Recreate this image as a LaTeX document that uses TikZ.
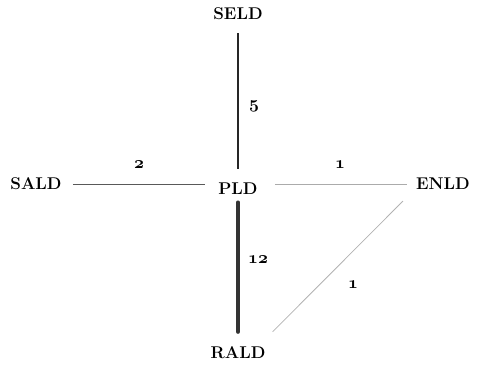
\documentclass[tikz,border=0pt]{standalone}
\newcommand\osfnum[1]{{\usefont{OML}{cmm}{b}{it}#1}}
\begin{document}
\begin{tikzpicture}[x=1pt,y=1pt,
  place/.style={inner sep=0pt,font=\fontsize{17}{20}\selectfont\bfseries},
  wlabel/.style={inner sep=0pt,font=\fontsize{17.28}{20}\selectfont},
  lnk/.style={line width=1pt}]
\useasboundingbox (0,0) rectangle (478,-372);
\node[place] (SELD) at (238,-14) {SELD};
\node[place] (SALD) at (36,-184) {SALD};
\node[place] (PLD)  at (238,-188.5) {PLD};
\node[place] (ENLD) at (443,-184) {ENLD};
\node[place] (RALD) at (238,-353) {RALD};
% connectors
\draw[lnk,line width=1.6pt,color=black!85,shorten <=13pt,shorten >=13pt]
  (SELD.south) -- (PLD.north);
\draw[lnk,color=black!65,shorten <=11pt,shorten >=13pt]
  (SALD.east) -- (SALD.east -| PLD.west);
\draw[lnk,color=black!33,shorten <=17pt,shorten >=9pt]
  (PLD.east |- ENLD.west) -- (ENLD.west);
\draw[line width=4.2pt,color=black!80,line cap=round,shorten <=8pt,shorten >=15pt]
  (PLD.south) -- (RALD.north);
\draw[line width=0.8pt,color=black!30]
  ([xshift=-13pt,yshift=-11pt]ENLD.south west) -- ([xshift=7pt,yshift=15pt]RALD.north east);
% weights
\node[wlabel] (w5)  at (254,-106) {\osfnum{5}};
\node[wlabel] (w2)  at (139,-165) {\osfnum{2}};
\node[wlabel] (w1a) at (340,-165) {\osfnum{1}};
\node[wlabel] (w12) at (258,-260) {\osfnum{12}};
\node[wlabel] (w1b) at (353,-285) {\osfnum{1}};
\end{tikzpicture}
\end{document}
